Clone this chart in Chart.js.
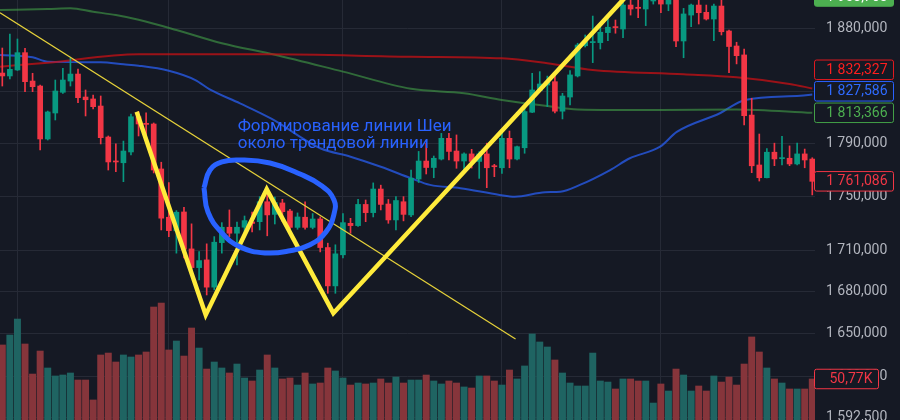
<!DOCTYPE html>
<html>
<head>
<meta charset="utf-8">
<script src="https://cdn.jsdelivr.net/npm/chart.js@4.4.1/dist/chart.umd.min.js"></script>
<style>
  html, body { margin: 0; padding: 0; background: #151924; }
  #wrap { width: 900px; height: 420px; }
</style>
</head>
<body>
<div id="wrap"><canvas id="chart" width="900" height="420"></canvas></div>
<script>
// prices are shown as "1 880,000" (ru format, 3 decimals)
const opens = [1844.4,1842.1,1846.8,1860.5,1838.1,1834.2,1793.2,1813.2,1829.3,1838.1,
  1843.6,1825.6,1824.1,1818.6,1794.7,1776.4,1775.1,1783.3,1810.3,1805.2,
  1804.7,1770.4,1734.3,1724.2,1738.2,1711.0,1697.4,1703.0,1683.3,1715.6,
  1726.9,1722.5,1726.9,1730.8,1731.0,1745.8,1736.4,1744.9,1738.9,1726.8,
  1734.3,1726.8,1733.0,1712.0,1684.2,1706.7,1729.8,1728.1,1743.8,1737.7,
  1755.3,1744.1,1732.3,1745.8,1736.0,1762.8,1776.4,1771.5,1777.9,1793.7,
  1784.0,1776.4,1781.8,1776.1,1781.8,1772.8,1771.3,1793.7,1777.9,1786.5,
  1813.8,1830.6,1835.0,1837.6,1814.6,1825.6,1842.1,1866.0,1868.5,1868.5,
  1876.5,1881.3,1879.4,1898.7,1896.9,1895.5,1902.0,1904.4,1899.5,1903.6,
  1869.8,1890.6,1898.7,1892.8,1887.4,1897.9,1877.8,1865.8,1858.7,1811.6,
  1773.4,1763.8,1783.1,1778.2,1778.5,1774.2,1781.8,1777.9];
const highs = [1864.2,1875.4,1871.4,1864.0,1844.2,1835.0,1814.7,1838.9,1848.1,1856.0,
  1847.6,1831.1,1827.2,1826.4,1795.5,1789.4,1791.6,1812.4,1814.2,1813.4,
  1805.5,1775.5,1760.1,1739.2,1741.7,1729.4,1709.1,1714.7,1720.0,1730.3,
  1739.7,1730.8,1735.2,1738.2,1749.6,1754.6,1749.3,1747.6,1740.2,1737.5,
  1745.8,1737.0,1734.5,1715.2,1714.0,1737.0,1733.5,1747.6,1747.1,1759.9,
  1758.2,1747.5,1749.6,1749.6,1769.6,1783.7,1790.0,1780.2,1797.5,1797.5,
  1796.3,1782.7,1785.3,1783.5,1790.0,1773.9,1797.5,1799.3,1787.8,1816.8,
  1844.2,1845.5,1842.0,1843.6,1828.5,1846.3,1868.0,1874.6,1889.8,1883.4,
  1888.0,1886.6,1903.6,1904.4,1905.2,1909.4,1907.7,1908.6,1906.9,1907.7,
  1896.0,1899.5,1903.6,1898.7,1899.5,1903.6,1878.6,1868.8,1863.4,1824.6,
  1797.0,1785.8,1790.0,1795.3,1787.9,1790.0,1785.5,1778.9];
const lows = [1834.2,1839.7,1846.4,1829.8,1829.8,1784.8,1792.4,1807.8,1828.5,1834.2,
  1821.2,1810.9,1816.3,1789.4,1769.6,1768.3,1760.8,1781.0,1795.5,1795.5,
  1767.4,1724.9,1720.0,1707.9,1704.5,1694.3,1688.5,1677.7,1681.3,1707.9,
  1720.0,1699.4,1721.3,1723.4,1724.9,1720.6,1729.3,1731.0,1725.7,1725.4,
  1725.4,1725.7,1708.8,1678.9,1678.9,1704.5,1722.5,1727.5,1731.0,1734.5,
  1739.7,1729.8,1724.9,1731.6,1734.8,1760.2,1766.6,1763.8,1777.2,1777.2,
  1770.9,1769.1,1771.1,1763.3,1756.3,1764.6,1767.1,1771.3,1777.2,1782.3,
  1813.5,1830.3,1818.1,1813.3,1808.6,1819.4,1841.3,1865.0,1852.6,1863.4,
  1870.1,1876.0,1872.4,1890.6,1888.5,1882.1,1899.5,1892.5,1894.1,1865.2,
  1856.5,1881.3,1883.4,1886.6,1870.1,1874.6,1844.7,1851.6,1804.0,1767.6,
  1761.3,1763.6,1772.9,1773.4,1772.9,1773.4,1771.3,1750.9];
const closes = [1842.1,1847.3,1860.5,1837.6,1833.7,1793.2,1814.0,1830.3,1838.9,1843.6,
  1825.1,1823.5,1818.1,1794.2,1775.7,1775.7,1784.0,1810.3,1804.7,1804.4,
  1769.6,1733.6,1724.4,1738.0,1710.8,1697.4,1702.5,1683.3,1715.9,1726.9,
  1722.5,1726.9,1731.8,1729.7,1745.8,1736.0,1745.2,1738.4,1726.8,1734.5,
  1726.8,1733.0,1712.0,1684.2,1707.4,1730.3,1728.1,1743.8,1737.7,1755.3,
  1743.8,1732.3,1746.7,1736.4,1763.4,1776.4,1771.5,1778.5,1793.7,1783.7,
  1776.4,1781.8,1776.1,1781.8,1771.3,1772.1,1793.7,1777.9,1787.3,1814.3,
  1831.1,1835.8,1837.6,1814.6,1826.4,1842.9,1866.6,1869.3,1869.3,1876.8,
  1880.8,1880.5,1898.7,1895.5,1896.0,1905.2,1904.4,1899.5,1903.6,1869.8,
  1891.5,1898.7,1892.5,1887.4,1897.9,1877.2,1865.4,1858.1,1811.1,1772.8,
  1763.8,1783.1,1778.0,1779.0,1774.2,1781.8,1777.2,1761.086];
// volume, thousands
const volumes = [92.9,105.2,125.0,94.1,56.9,85.4,64.4,54.5,55.7,58.2,
  49.5,49.5,24.8,80.5,82.9,71.8,80.5,78.0,80.5,84.2,
  139.9,144.8,86.7,97.8,79.2,113.9,89.1,63.1,71.8,64.4,
  58.2,69.3,52.0,48.3,61.9,80.5,64.4,50.8,52.0,43.3,
  58.2,44.6,45.8,64.4,60.7,52.0,43.3,45.8,44.6,45.8,
  50.8,45.8,53.2,45.8,49.5,49.5,55.7,48.3,44.6,48.3,
  45.8,40.9,39.6,54.5,54.5,48.3,43.3,61.9,50.8,66.9,
  106.5,96.6,90.4,74.3,58.2,45.8,42.1,42.1,82.9,48.3,
  47.0,38.4,50.8,50.8,48.3,48.3,21.0,44.6,35.9,63.1,
  55.7,35.9,42.1,35.9,54.5,47.0,53.2,43.3,69.3,102.8,
  84.2,64.4,50.8,45.8,38.4,38.4,38.4,50.77];

// moving averages (bar index, price)
const maRedX = [-0.3, 6, 18, 35, 54, 66, 72, 78, 90, 97, 104, 107];
const maRedY = [1849.4, 1852.6, 1859.2, 1859.2, 1857.3, 1856.0, 1852.1, 1846.8, 1843.4, 1841.0, 1835.8, 1832.327];
const maGreenX = [-0.3, 6, 9, 12, 15, 18, 23, 29, 36, 45, 54, 61, 66, 72, 76, 87, 97, 107];
const maGreenY = [1894.7, 1895.5, 1896.1, 1893.3, 1890.6, 1886.8, 1878.6, 1868.0, 1858.9, 1845.5,
  1832.0, 1828.5, 1823.3, 1818.6, 1816.0, 1815.5, 1816.0, 1813.366];
const maBlueX = [-0.3, 4, 6, 13, 16, 18, 22, 25.5, 27.4, 31.4, 35.6, 42, 46, 50, 54, 56.5, 60.5,
  65.7, 67.7, 71.7, 73.7, 76.3, 80.3, 82.9, 86.9, 89.1, 94.8, 98.1, 105.4, 107];
const maBlueY = [1858.7, 1856.8, 1853.4, 1852.9, 1851.3, 1850.2, 1846.2, 1838.9, 1831.6, 1820.7,
  1808.6, 1786.1, 1779.7, 1772.1, 1763.4, 1758.4, 1755.9, 1750.9, 1749.6, 1752.9,
  1753.3, 1758.4, 1769.6, 1778.5, 1787.3, 1798.6, 1813.0, 1823.3, 1826.6, 1827.586];

// drawings
const trendX = [-0.3, 67.8];
const trendY = [1892.5, 1646.5];
const zigzagX = [17.75, 26.87, 34.93, 43.73, 82.92];
const zigzagY = [1814.2, 1663.5, 1755.1, 1664.7, 1909.1];
const ovalX = [26.64, 27.44, 29.02, 31.40, 35.36, 39.33, 42.23, 43.82, 43.82, 42.76, 40.65, 38.01, 34.70, 31.40, 29.02, 27.17, 26.64];
const ovalY = [1756.1, 1769.6, 1775.7, 1777.2, 1774.9, 1766.6, 1757.6, 1747.1, 1736.7, 1723.5, 1714.0, 1709.6, 1708.1, 1712.5, 1722.7, 1738.2, 1756.1];
const noteLines = ['Формирование линии Шеи', 'около трендовой линии'];

const priceTicks = [1880, 1830, 1790, 1750, 1710, 1680, 1650, 1620, 1592.5];
const timeGrid = [2, 22, 45, 66, 87];

const BG = '#151924';
const UP = '#089981', DOWN = '#f23645';
const VOL_UP = '#1f6462', VOL_DOWN = '#86353b';

function fmtPrice(v) {
  const parts = v.toFixed(3).split('.');
  return parts[0].replace(/\B(?=(\d{3})+(?!\d))/g, ' ') + ',' + parts[1];
}
function pts(xs, ys) { return xs.map((x, i) => ({ x: x, y: ys[i] })); }

const idx = opens.map((_, i) => i);
const isUp = idx.map(i => closes[i] >= opens[i]);

const bgPlugin = {
  id: 'bg',
  beforeDraw(c) {
    const ctx = c.ctx;
    ctx.save();
    ctx.fillStyle = BG;
    ctx.fillRect(0, 0, c.width, c.height);
    ctx.restore();
  }
};

const notePlugin = {
  id: 'note',
  afterDatasetsDraw(c) {
    const ctx = c.ctx;
    const x = c.scales.x.getPixelForValue(31.1);
    const y = c.scales.y.getPixelForValue(1799.3);
    ctx.save();
    ctx.font = '17px Roboto, "Liberation Sans", sans-serif';
    ctx.fillStyle = '#2962ff';
    ctx.textBaseline = 'alphabetic';
    noteLines.forEach((t, k) => ctx.fillText(t, x, y + k * 17));
    ctx.restore();
  }
};

function labelBox(ctx, yc, text, opt) {
  const left = 814.5, w = opt.w || 79, h = 19.5;
  ctx.save();
  ctx.beginPath();
  if (ctx.roundRect) ctx.roundRect(left, yc - h / 2, w, h, 2); else ctx.rect(left, yc - h / 2, w, h);
  ctx.fillStyle = opt.fill || BG;
  ctx.fill();
  ctx.lineWidth = 1;
  ctx.strokeStyle = opt.border;
  ctx.stroke();
  ctx.fillStyle = opt.color;
  ctx.font = '14px Roboto, "Liberation Sans", sans-serif';
  ctx.textAlign = 'right';
  ctx.textBaseline = 'middle';
  ctx.fillText(text, left + w - 6, yc + 0.5);
  ctx.restore();
}

const axisLabelPlugin = {
  id: 'axisLabels',
  afterDraw(c) {
    const ctx = c.ctx, ys = c.scales.y, yv = c.scales.yv;
    // moving average labels, stacked bottom-up so they don't overlap
    const mas = [
      { v: maGreenY[maGreenY.length - 1], border: '#43a047', color: '#4caf50' },
      { v: maBlueY[maBlueY.length - 1], border: '#2962ff', color: '#2f6bff' },
      { v: maRedY[maRedY.length - 1], border: '#e0191f', color: '#ff1f1f' }
    ];
    let limit = Infinity;
    mas.forEach(m => {
      let y = Math.min(ys.getPixelForValue(m.v), limit);
      labelBox(ctx, y, fmtPrice(m.v), m);
      limit = y - 21.5;
    });
    const last = closes[closes.length - 1];
    labelBox(ctx, ys.getPixelForValue(last), fmtPrice(last), { border: DOWN, color: DOWN });
    const lv = volumes[volumes.length - 1];
    labelBox(ctx, yv.getPixelForValue(lv), lv.toFixed(2).replace('.', ',') + 'K',
      { border: DOWN, color: DOWN, w: 64 });
    labelBox(ctx, -3.5, fmtPrice(1903.763), { border: '#4caf50', fill: '#4caf50', color: '#ffffff' });
  }
};

new Chart(document.getElementById('chart'), {
  type: 'bar',
  data: {
    datasets: [
      {
        type: 'bar', label: 'Volume', yAxisID: 'yv', order: 10, grouped: false,
        data: idx.map(i => ({ x: i, y: volumes[i] })),
        backgroundColor: idx.map(i => isUp[i] ? VOL_UP : VOL_DOWN),
        barThickness: 6.3
      },
      {
        type: 'line', label: 'MA red', order: 9, data: pts(maRedX, maRedY),
        borderColor: 'rgba(200,16,20,0.75)', borderWidth: 2, pointRadius: 0, cubicInterpolationMode: 'monotone'
      },
      {
        type: 'line', label: 'MA green', order: 9, data: pts(maGreenX, maGreenY),
        borderColor: 'rgba(67,160,71,0.6)', borderWidth: 2, pointRadius: 0, cubicInterpolationMode: 'monotone'
      },
      {
        type: 'line', label: 'MA blue', order: 9, data: pts(maBlueX, maBlueY),
        borderColor: 'rgba(41,98,255,0.7)', borderWidth: 2, pointRadius: 0, cubicInterpolationMode: 'monotone'
      },
      {
        type: 'bar', label: 'Wicks', order: 8, grouped: false,
        data: idx.map(i => ({ x: i, y: [lows[i], highs[i]] })),
        backgroundColor: idx.map(i => isUp[i] ? UP : DOWN),
        barThickness: 1
      },
      {
        type: 'bar', label: 'Bodies', order: 7, grouped: false, minBarLength: 1,
        data: idx.map(i => ({ x: i, y: [opens[i], closes[i]] })),
        backgroundColor: idx.map(i => isUp[i] ? UP : DOWN),
        barThickness: 5
      },
      {
        type: 'line', label: 'Trend', order: 6, data: pts(trendX, trendY),
        borderColor: '#e6d23a', borderWidth: 1.2, pointRadius: 0
      },
      {
        type: 'line', label: 'Pattern', order: 5, data: pts(zigzagX, zigzagY),
        borderColor: '#ffeb3b', borderWidth: 4.5, pointRadius: 0, borderJoinStyle: 'miter'
      },
      {
        type: 'line', label: 'Oval', order: 4, data: pts(ovalX, ovalY),
        borderColor: '#2962ff', borderWidth: 5, pointRadius: 0, tension: 0.45
      }
    ]
  },
  options: {
    responsive: false,
    animation: false,
    devicePixelRatio: 1,
    layout: { padding: 0, autoPadding: false },
    plugins: { legend: { display: false }, tooltip: { enabled: false } },
    scales: {
      x: {
        type: 'linear', min: -0.304, max: 107.36, offset: false,
        grid: { color: '#262a36', offset: false, drawTicks: false },
        border: { display: false },
        ticks: { display: false },
        afterBuildTicks: s => { s.ticks = timeGrid.map(v => ({ value: v })); },
        afterFit: s => { s.height = 0; s.paddingLeft = 0; s.paddingRight = 0; }
      },
      y: {
        type: 'logarithmic', position: 'right', min: 1590.5, max: 1902.8,
        grid: { color: '#262a36', drawTicks: false },
        border: { display: false },
        ticks: {
          autoSkip: false, padding: 11, color: '#b2b5be',
          font: { family: 'Roboto, "Liberation Sans", sans-serif', size: 14 },
          callback: v => fmtPrice(v)
        },
        afterBuildTicks: s => { s.ticks = priceTicks.map(v => ({ value: v })); },
        afterFit: s => { s.width = 85; s.paddingTop = 0; s.paddingBottom = 0; }
      },
      yv: {
        type: 'linear', display: false, min: 0, max: 520
      }
    }
  },
  plugins: [bgPlugin, notePlugin, axisLabelPlugin]
});
</script>
</body>
</html>
